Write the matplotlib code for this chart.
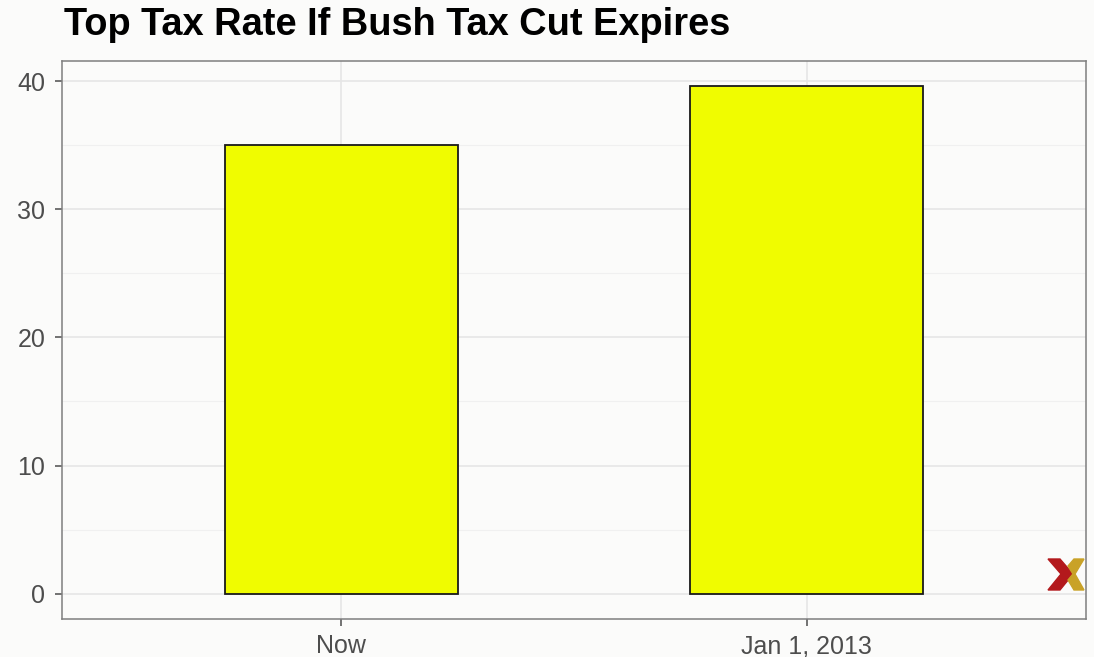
import matplotlib.pyplot as plt
from matplotlib.patches import Polygon
from matplotlib.ticker import MultipleLocator

categories = ["Now", "Jan 1, 2013"]
top_rate = [35.0, 39.6]

plt.rcParams["font.family"] = ["Liberation Sans", "DejaVu Sans"]

bg = "#fbfbfa"
fig = plt.figure(figsize=(10.94, 6.57), dpi=100, facecolor=bg)
ax = fig.add_axes([62 / 1094, 38 / 657, 1024 / 1094, 558 / 657])
ax.set_facecolor(bg)

x = range(1, len(categories) + 1)
ax.bar(x, top_rate, width=0.5, color="#f0fc00", edgecolor="#1a1a1a",
       linewidth=1.3, zorder=3)

ax.set_xlim(0.4, 2.6)
ax.set_ylim(-1.98, 41.58)
ax.set_xticks(list(x))
ax.set_xticklabels(categories)
ax.yaxis.set_major_locator(MultipleLocator(10))
ax.yaxis.set_minor_locator(MultipleLocator(5))

ax.grid(which="major", color="#e6e6e6", linewidth=1.2, zorder=0)
ax.grid(which="minor", axis="y", color="#f0f0f0", linewidth=0.8, zorder=0)
ax.tick_params(which="minor", length=0)
ax.tick_params(which="major", length=5, width=1.1, color="#4d4d4d",
               labelsize=18, labelcolor="#4d4d4d")
ax.tick_params(axis="x", pad=6)
ax.tick_params(axis="y", pad=7)
for s in ax.spines.values():
    s.set_color("#7f7f7f")
    s.set_linewidth(1.1)

fig.text(64 / 1094, 1 - 25 / 657, "Top Tax Rate If Bush Tax Cut Expires",
         fontsize=27.4, fontweight="bold", va="center", ha="left")

# small corner logo
def px(pts):
    return [(a / 1094, 1 - b / 657) for a, b in pts]

red = Polygon(px([(1048, 559), (1060, 559), (1073, 574), (1060, 590),
                  (1048, 590), (1061, 574)]),
              closed=True, color="#b3191c", transform=fig.transFigure)
gold = Polygon(px([(1074, 559), (1084, 559), (1075, 574), (1084, 590),
                   (1074, 590), (1068, 580), (1073, 574), (1068, 566)]),
               closed=True, color="#c9a227", transform=fig.transFigure)
fig.patches.extend([red, gold])

fig.savefig("out.png", dpi=100, facecolor=bg)
